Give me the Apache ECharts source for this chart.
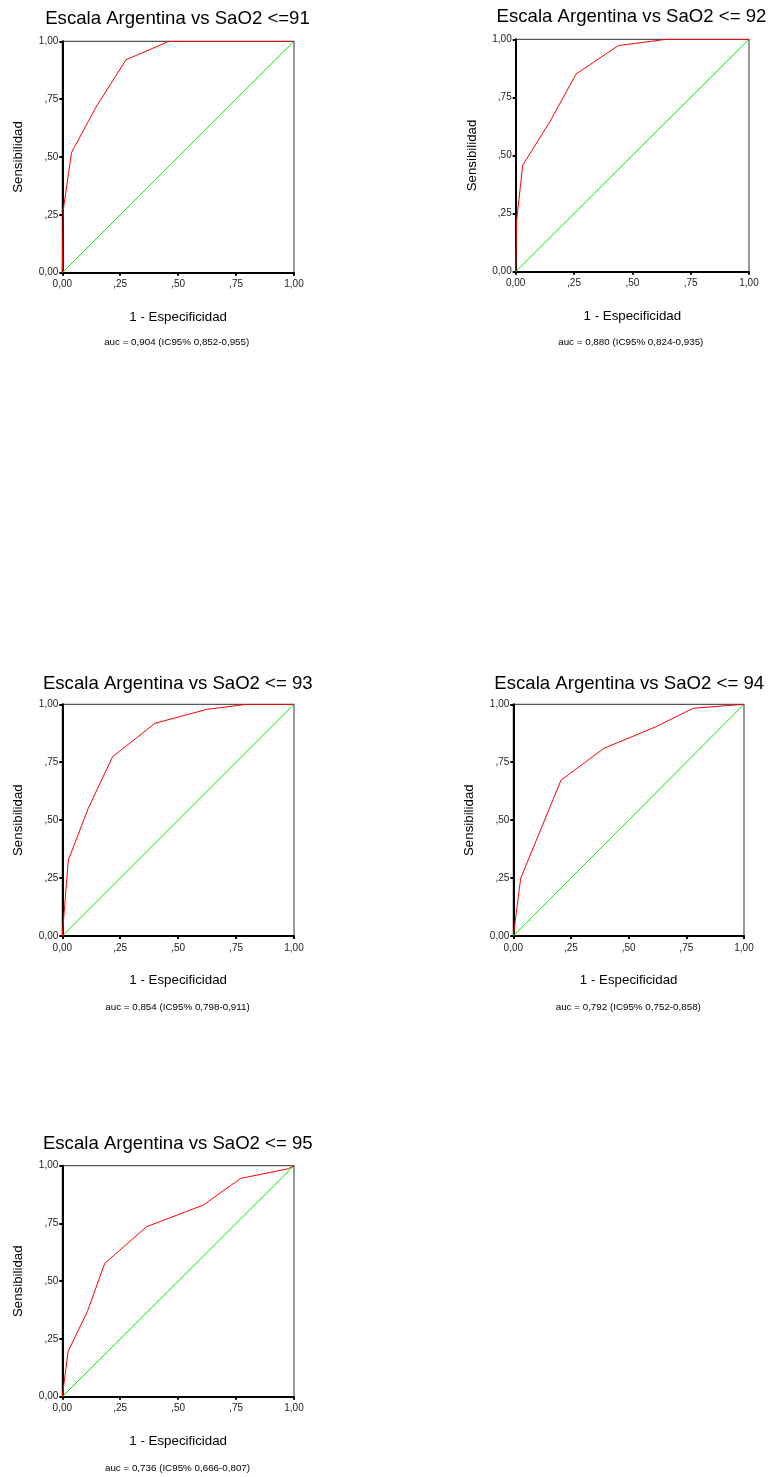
<!DOCTYPE html>
<html>
<head>
<meta charset="utf-8">
<script src="https://cdn.jsdelivr.net/npm/echarts@6/dist/echarts.min.js"></script>
<style>
  html, body { margin: 0; padding: 0; background: #fff; }
  #roc { width: 773px; height: 1477px; }
</style>
</head>
<body>
<div id="roc"></div>
<script>
// tick labels (SPSS style, comma decimals)
const tickLabels = ["0,00", ",25", ",50", ",75", "1,00"];

// ROC curves: 1 - especificidad (x) / sensibilidad (y)
const fpr91 = [0, 0.004, 0.04, 0.148, 0.275, 0.46, 1];
const tpr91 = [0, 0.27, 0.52, 0.72, 0.92, 1, 1];

const fpr92 = [0, 0.004, 0.03, 0.147, 0.259, 0.44, 0.647, 1];
const tpr92 = [0, 0.22, 0.458, 0.646, 0.851, 0.973, 1, 1];

const fpr93 = [0, 0.026, 0.112, 0.217, 0.40, 0.623, 0.796, 1];
const tpr93 = [0, 0.328, 0.551, 0.774, 0.918, 0.978, 1, 1];

const fpr94 = [0, 0.032, 0.207, 0.393, 0.62, 0.78, 1];
const tpr94 = [0, 0.249, 0.673, 0.81, 0.904, 0.983, 1];

const fpr95 = [0, 0.025, 0.108, 0.183, 0.364, 0.609, 0.77, 0.976, 1];
const tpr95 = [0, 0.196, 0.368, 0.577, 0.736, 0.83, 0.945, 0.987, 1];

const chartTitles = [
  "Escala Argentina vs SaO2 <=91",
  "Escala Argentina vs SaO2 <= 92",
  "Escala Argentina vs SaO2 <= 93",
  "Escala Argentina vs SaO2 <= 94",
  "Escala Argentina vs SaO2 <= 95"
];
const aucNotes = [
  "auc = 0,904 (IC95% 0,852-0,955)",
  "auc = 0,880 (IC95% 0,824-0,935)",
  "auc = 0,854 (IC95% 0,798-0,911)",
  "auc = 0,792 (IC95% 0,752-0,858)",
  "auc = 0,736 (IC95% 0,666-0,807)"
];
const diagX = [0, 1];
const diagY = [0, 1];

const curves = [[fpr91, tpr91], [fpr92, tpr92], [fpr93, tpr93], [fpr94, tpr94], [fpr95, tpr95]];

// panel boxes: plot left, top, width, height; title y; note y
const panels = [
  { left: 62.3, top: 41.3, w: 231.7, h: 231.4, ty: 9.2, ny: 337, cx: 177.5, nx: 176.7 },
  { left: 515.7, top: 39.3, w: 233.3, h: 232.4, ty: 7, ny: 337, cx: 631.5, nx: 630.8 },
  { left: 62.3, top: 704.3, w: 231.7, h: 231.7, ty: 674, ny: 1002, cx: 177.8, nx: 177.5 },
  { left: 513.3, top: 704.3, w: 230.7, h: 231.7, ty: 674, ny: 1002, cx: 629.2, nx: 628.3 },
  { left: 62.3, top: 1165.7, w: 231.7, h: 231, ty: 1134, ny: 1463, cx: 177.8, nx: 177.5 }
];

const font = "'Liberation Sans', Arial, sans-serif";
const fmt = (v) => tickLabels[Math.round(v * 4)];

const option = {
  animation: false,
  backgroundColor: "#fff",
  title: [],
  grid: [],
  xAxis: [],
  yAxis: [],
  series: []
};

panels.forEach((p, i) => {
  option.title.push({
    text: chartTitles[i],
    left: p.cx,
    top: p.ty,
    textAlign: "center",
    padding: 0,
    textStyle: { fontFamily: font, fontSize: 18.6, fontWeight: "normal", color: "#000" }
  });
  option.title.push({
    text: aucNotes[i],
    left: p.nx,
    top: p.ny,
    textAlign: "center",
    padding: 0,
    textStyle: { fontFamily: font, fontSize: 9.8, fontWeight: "normal", color: "#000" }
  });
  option.grid.push({
    left: p.left, top: p.top, width: p.w, height: p.h,
    show: true, borderColor: "#555", borderWidth: 1.2, backgroundColor: "#fff"
  });
  const axisCommon = {
    gridIndex: i,
    type: "value",
    min: 0,
    max: 1,
    interval: 0.25,
    splitLine: { show: false },
    axisLine: { lineStyle: { color: "#000", width: 2 } },
    axisTick: { show: true, length: 3, lineStyle: { color: "#000", width: 2 } },
    axisLabel: { formatter: fmt, fontFamily: font, fontSize: 10, color: "#222" },
    nameLocation: "middle",
    nameTextStyle: { fontFamily: font, fontSize: 13.3, color: "#000" }
  };
  option.xAxis.push(Object.assign({}, axisCommon, {
    name: "1 - Especificidad",
    nameGap: 38,
    axisLabel: Object.assign({}, axisCommon.axisLabel, { margin: 7 })
  }));
  option.yAxis.push(Object.assign({}, axisCommon, {
    name: "Sensibilidad",
    nameGap: 37,
    axisLabel: Object.assign({}, axisCommon.axisLabel, { margin: 4 })
  }));
  option.series.push({
    type: "line",
    xAxisIndex: i,
    yAxisIndex: i,
    showSymbol: false,
    lineStyle: { color: "#00ee00", width: 1 },
    data: diagX.map((x, k) => [x, diagY[k]])
  });
  option.series.push({
    type: "line",
    xAxisIndex: i,
    yAxisIndex: i,
    showSymbol: false,
    lineStyle: { color: "#ff0000", width: 1 },
    data: curves[i][0].map((x, k) => [x, curves[i][1][k]])
  });
});

const chart = echarts.init(document.getElementById("roc"));
chart.setOption(option);
</script>
</body>
</html>
